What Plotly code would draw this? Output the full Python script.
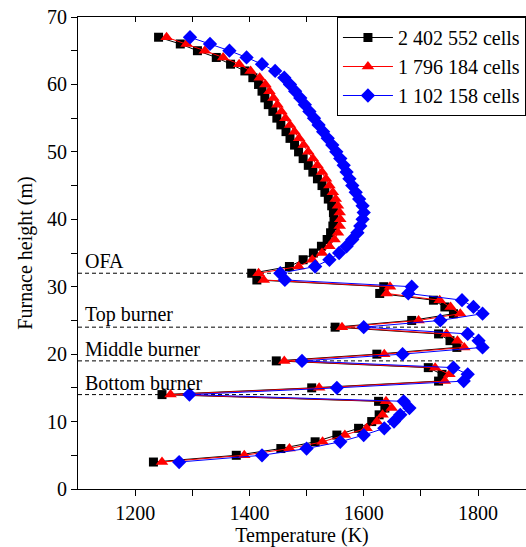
import plotly.graph_objects as go

heights = list(range(67, 3, -1))  # 67 .. 4 m

t_2402552 = [1241, 1279, 1309, 1342, 1367, 1392, 1406, 1416, 1422, 1427,
             1433, 1441, 1448, 1455, 1464, 1471, 1479, 1486, 1494, 1503,
             1511, 1519, 1527, 1532, 1538, 1544, 1547, 1548, 1546, 1542,
             1536, 1526, 1512, 1494, 1470, 1404, 1413, 1635, 1628, 1722,
             1742, 1757, 1684, 1550, 1731, 1751, 1763, 1623, 1447, 1713,
             1737, 1731, 1509, 1247, 1626, 1637, 1627, 1614, 1591, 1553,
             1515, 1455, 1377, 1232]

t_1796184 = [1255, 1290, 1322, 1354, 1382, 1402, 1418, 1428, 1435, 1442,
             1449, 1456, 1463, 1471, 1479, 1487, 1495, 1503, 1511, 1519,
             1527, 1534, 1540, 1546, 1551, 1555, 1558, 1559, 1558, 1555,
             1549, 1540, 1527, 1510, 1486, 1416, 1425, 1646, 1640, 1733,
             1752, 1769, 1696, 1562, 1745, 1764, 1776, 1636, 1461, 1725,
             1750, 1742, 1522, 1262, 1639, 1649, 1633, 1623, 1605, 1567,
             1528, 1470, 1391, 1247]

t_1102158 = [1296, 1331, 1365, 1395, 1422, 1445, 1461, 1471, 1480, 1489,
             1497, 1505, 1513, 1521, 1529, 1537, 1545, 1552, 1559, 1565,
             1570, 1575, 1580, 1586, 1592, 1598, 1600, 1598, 1594, 1589,
             1580, 1570, 1557, 1540, 1515, 1454, 1462, 1684, 1678, 1772,
             1792, 1808, 1734, 1600, 1782, 1801, 1808, 1668, 1492, 1757,
             1782, 1775, 1553, 1295, 1670, 1680, 1664, 1653, 1636, 1600,
             1559, 1500, 1422, 1277]

series_names = ["2 402 552 cells", "1 796 184 cells", "1 102 158 cells"]
levels = [32, 24, 19, 14]
level_names = ["OFA", "Top burner", "Middle burner", "Bottom burner"]

FONT = "Liberation Serif"
FS = 20

fig = go.Figure()
styles = [
    ("black", "square", 9, t_2402552),
    ("red", "triangle-up", 11, t_1796184),
    ("blue", "diamond", 11, t_1102158),
]
for name, (col, sym, sz, vals) in zip(series_names, styles):
    fig.add_trace(go.Scatter(
        x=vals, y=heights, mode="lines+markers", name=name,
        line=dict(color=col, width=1),
        marker=dict(symbol=sym, size=sz, color=col, line=dict(width=0)),
    ))

# invisible trace for the top axis ticks
fig.add_trace(go.Scatter(x=[1100], y=[0], xaxis="x2", showlegend=False,
                         mode="markers", marker=dict(opacity=0), hoverinfo="skip"))

for lv, txt in zip(levels, level_names):
    fig.add_shape(type="line", xref="paper", x0=0, x1=1, yref="y", y0=lv, y1=lv,
                  line=dict(color="black", width=1, dash="4px,3px"), layer="below")
    fig.add_annotation(xref="paper", x=0.012, yref="y", y=lv, yanchor="bottom",
                       xanchor="left", yshift=-1, text=txt, showarrow=False,
                       font=dict(family=FONT, size=FS, color="black"))

axis_common = dict(showgrid=False, zeroline=False, showline=True, linecolor="black",
                   linewidth=1.2, ticks="outside", tickcolor="black", ticklen=6,
                   tickfont=dict(family=FONT, size=FS, color="black"))

fig.update_layout(
    width=526, height=547,
    margin=dict(l=78, r=0, t=17, b=58),
    paper_bgcolor="white", plot_bgcolor="white",
    font=dict(family=FONT, color="black"),
    xaxis=dict(range=[1100, 1884], tickvals=[1200, 1400, 1600, 1800],
               minor=dict(tickvals=[1300, 1500, 1700], ticks="outside", ticklen=6,
                          tickcolor="black"),
               title=dict(text="Temperature (K)", font=dict(family=FONT, size=FS),
                          standoff=0),
               **axis_common),
    xaxis2=dict(overlaying="x", side="top", matches="x", range=[1100, 1884],
                showline=True, linecolor="black", linewidth=1.2,
                ticks="inside", ticklen=5, tickcolor="black",
                tickvals=[1200, 1300, 1400, 1500, 1600, 1700, 1800],
                showticklabels=False, showgrid=False, zeroline=False),
    yaxis=dict(range=[0, 70], tickvals=[0, 10, 20, 30, 40, 50, 60, 70],
               minor=dict(tickvals=[5, 15, 25, 35, 45, 55, 65], ticks="outside",
                          ticklen=6, tickcolor="black"),
               title=dict(text="Furnace height (m)", font=dict(family=FONT, size=FS),
                          standoff=8),
               **axis_common),
    legend=dict(x=0.578, y=1.0, xanchor="left", yanchor="top",
                bgcolor="white", bordercolor="black", borderwidth=1,
                font=dict(family=FONT, size=FS, color="black"),
                tracegroupgap=0, itemwidth=50),
    showlegend=True,
)

fig.write_html("out.html")
